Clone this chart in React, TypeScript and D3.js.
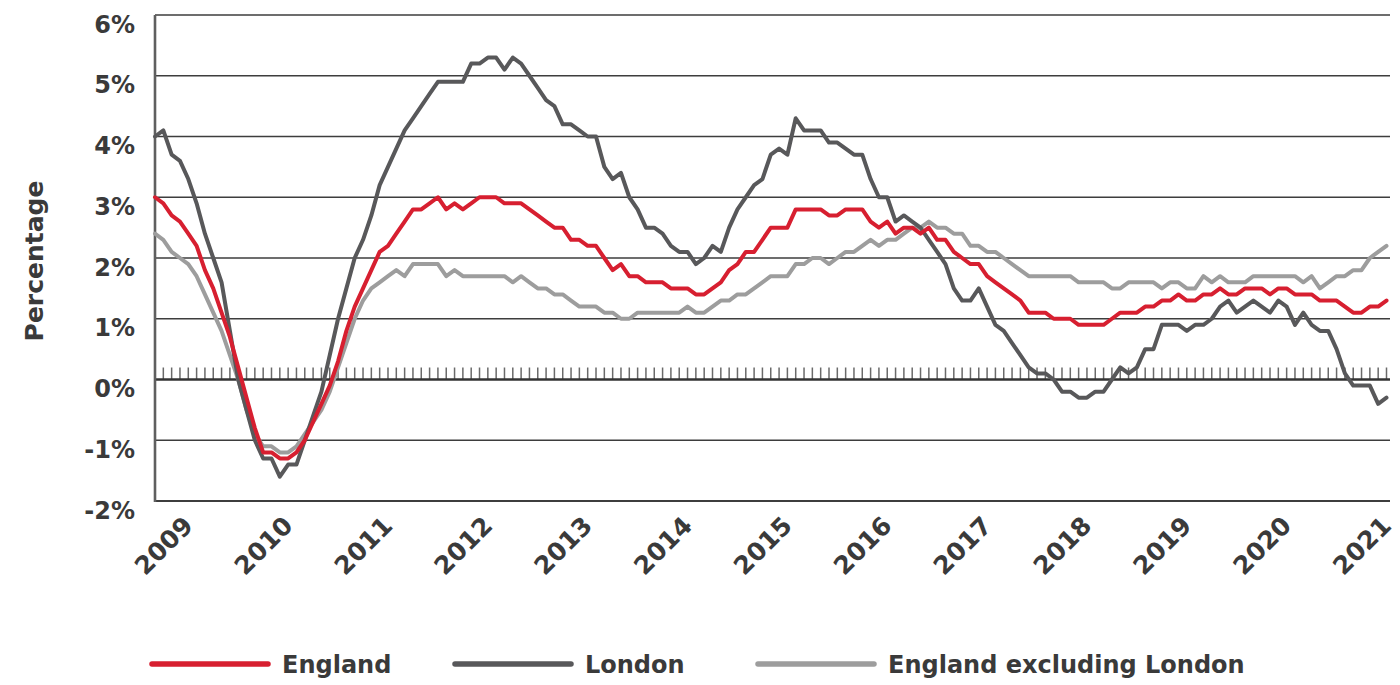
import React from 'react';
import * as d3 from 'd3';

const W = 1400, H = 685;
const PLOT = { left: 155, right: 1386.5, top: 15, bottom: 501, gridEnd: 1390 };
const FONT = '"DejaVu Sans", Verdana, sans-serif';
const TEXT = '#3a3a3a';

// monthly categories, Sep 2008 .. Jan 2021
const MONTHS = d3.timeMonth.range(new Date(2008, 8, 1), new Date(2021, 0, 2));

const Y_TICKS = [6, 5, 4, 3, 2, 1, 0, -1, -2];

const ENGLAND = [
  3.0, 2.9, 2.7, 2.6, 2.4, 2.2, 1.8, 1.5, 1.1, 0.7,
  0.2, -0.3, -0.8, -1.2, -1.2, -1.3, -1.3, -1.2, -1.0, -0.7,
  -0.4, -0.1, 0.3, 0.8, 1.2, 1.5, 1.8, 2.1, 2.2, 2.4,
  2.6, 2.8, 2.8, 2.9, 3.0, 2.8, 2.9, 2.8, 2.9, 3.0,
  3.0, 3.0, 2.9, 2.9, 2.9, 2.8, 2.7, 2.6, 2.5, 2.5,
  2.3, 2.3, 2.2, 2.2, 2.0, 1.8, 1.9, 1.7, 1.7, 1.6,
  1.6, 1.6, 1.5, 1.5, 1.5, 1.4, 1.4, 1.5, 1.6, 1.8,
  1.9, 2.1, 2.1, 2.3, 2.5, 2.5, 2.5, 2.8, 2.8, 2.8,
  2.8, 2.7, 2.7, 2.8, 2.8, 2.8, 2.6, 2.5, 2.6, 2.4,
  2.5, 2.5, 2.4, 2.5, 2.3, 2.3, 2.1, 2.0, 1.9, 1.9,
  1.7, 1.6, 1.5, 1.4, 1.3, 1.1, 1.1, 1.1, 1.0, 1.0,
  1.0, 0.9, 0.9, 0.9, 0.9, 1.0, 1.1, 1.1, 1.1, 1.2,
  1.2, 1.3, 1.3, 1.4, 1.3, 1.3, 1.4, 1.4, 1.5, 1.4,
  1.4, 1.5, 1.5, 1.5, 1.4, 1.5, 1.5, 1.4, 1.4, 1.4,
  1.3, 1.3, 1.3, 1.2, 1.1, 1.1, 1.2, 1.2, 1.3,
];

const LONDON = [
  4.0, 4.1, 3.7, 3.6, 3.3, 2.9, 2.4, 2.0, 1.6, 0.8,
  0.0, -0.5, -1.0, -1.3, -1.3, -1.6, -1.4, -1.4, -1.0, -0.6,
  -0.2, 0.4, 1.0, 1.5, 2.0, 2.3, 2.7, 3.2, 3.5, 3.8,
  4.1, 4.3, 4.5, 4.7, 4.9, 4.9, 4.9, 4.9, 5.2, 5.2,
  5.3, 5.3, 5.1, 5.3, 5.2, 5.0, 4.8, 4.6, 4.5, 4.2,
  4.2, 4.1, 4.0, 4.0, 3.5, 3.3, 3.4, 3.0, 2.8, 2.5,
  2.5, 2.4, 2.2, 2.1, 2.1, 1.9, 2.0, 2.2, 2.1, 2.5,
  2.8, 3.0, 3.2, 3.3, 3.7, 3.8, 3.7, 4.3, 4.1, 4.1,
  4.1, 3.9, 3.9, 3.8, 3.7, 3.7, 3.3, 3.0, 3.0, 2.6,
  2.7, 2.6, 2.5, 2.3, 2.1, 1.9, 1.5, 1.3, 1.3, 1.5,
  1.2, 0.9, 0.8, 0.6, 0.4, 0.2, 0.1, 0.1, 0.0, -0.2,
  -0.2, -0.3, -0.3, -0.2, -0.2, 0.0, 0.2, 0.1, 0.2, 0.5,
  0.5, 0.9, 0.9, 0.9, 0.8, 0.9, 0.9, 1.0, 1.2, 1.3,
  1.1, 1.2, 1.3, 1.2, 1.1, 1.3, 1.2, 0.9, 1.1, 0.9,
  0.8, 0.8, 0.5, 0.1, -0.1, -0.1, -0.1, -0.4, -0.3,
];

const ENGLAND_EX_LONDON = [
  2.4, 2.3, 2.1, 2.0, 1.9, 1.7, 1.4, 1.1, 0.8, 0.4,
  0.0, -0.5, -0.9, -1.1, -1.1, -1.2, -1.2, -1.1, -0.9, -0.7,
  -0.5, -0.2, 0.2, 0.6, 1.0, 1.3, 1.5, 1.6, 1.7, 1.8,
  1.7, 1.9, 1.9, 1.9, 1.9, 1.7, 1.8, 1.7, 1.7, 1.7,
  1.7, 1.7, 1.7, 1.6, 1.7, 1.6, 1.5, 1.5, 1.4, 1.4,
  1.3, 1.2, 1.2, 1.2, 1.1, 1.1, 1.0, 1.0, 1.1, 1.1,
  1.1, 1.1, 1.1, 1.1, 1.2, 1.1, 1.1, 1.2, 1.3, 1.3,
  1.4, 1.4, 1.5, 1.6, 1.7, 1.7, 1.7, 1.9, 1.9, 2.0,
  2.0, 1.9, 2.0, 2.1, 2.1, 2.2, 2.3, 2.2, 2.3, 2.3,
  2.4, 2.5, 2.5, 2.6, 2.5, 2.5, 2.4, 2.4, 2.2, 2.2,
  2.1, 2.1, 2.0, 1.9, 1.8, 1.7, 1.7, 1.7, 1.7, 1.7,
  1.7, 1.6, 1.6, 1.6, 1.6, 1.5, 1.5, 1.6, 1.6, 1.6,
  1.6, 1.5, 1.6, 1.6, 1.5, 1.5, 1.7, 1.6, 1.7, 1.6,
  1.6, 1.6, 1.7, 1.7, 1.7, 1.7, 1.7, 1.7, 1.6, 1.7,
  1.5, 1.6, 1.7, 1.7, 1.8, 1.8, 2.0, 2.1, 2.2,
];

const RED = '#d71f30';
const DARK = '#58585a';
const LIGHT = '#9d9d9d';

// drawing order: light grey at the back, red on top
const SERIES = [
  { name: 'England excluding London', values: ENGLAND_EX_LONDON, color: LIGHT },
  { name: 'London', values: LONDON, color: DARK },
  { name: 'England', values: ENGLAND, color: RED },
];

const LEGEND = [
  { name: 'England', color: RED, x: 152 },
  { name: 'London', color: DARK, x: 455 },
  { name: 'England excluding London', color: LIGHT, x: 758 },
];

export default function App() {
  const x = d3.scaleLinear().domain([0, MONTHS.length - 1]).range([PLOT.left, PLOT.right]);
  const y = d3.scaleLinear().domain([-2, 6]).range([PLOT.bottom, PLOT.top]);
  const line = d3.line<number>().x((_, i) => x(i)).y(d => y(d));

  const y0 = y(0);
  const years = MONTHS.map((m, i) => ({ m, i })).filter(d => d.m.getMonth() === 0);

  return (
    <svg width={W} height={H} style={{ position: 'absolute', left: 0, top: 0, background: '#fff' }}
      fontFamily={FONT} fontWeight="bold">
      {/* horizontal gridlines */}
      {Y_TICKS.filter(t => t !== 0).map(t => (
        <line key={t} x1={PLOT.left} x2={PLOT.gridEnd} y1={y(t)} y2={y(t)}
          stroke="#3d3d3d" strokeWidth={t === -2 ? 2 : 1.3} />
      ))}

      {/* monthly tick marks above the zero line */}
      {MONTHS.map((_, i) => i === 0 ? null : (
        <line key={i} x1={x(i)} x2={x(i)} y1={y0 - 12} y2={y0} stroke="#6a6a6a" strokeWidth={1.5} />
      ))}
      <line x1={PLOT.left} x2={PLOT.gridEnd} y1={y0} y2={y0} stroke="#333" strokeWidth={2.4} />

      {/* left axis */}
      <line x1={PLOT.left} x2={PLOT.left} y1={PLOT.top} y2={PLOT.bottom + 1} stroke="#5f5f5f" strokeWidth={2.6} />

      {/* series */}
      {SERIES.map(s => (
        <path key={s.name} d={line(s.values) || ''} fill="none" stroke={s.color}
          strokeWidth={4} strokeLinejoin="round" strokeLinecap="round" />
      ))}

      {/* y tick labels: top of the label sits on its gridline */}
      {Y_TICKS.map(t => (
        <text key={t} x={135} y={y(t) + 17.5} textAnchor="end" fontSize={24} fill={TEXT}>{`${t}%`}</text>
      ))}

      {/* y axis title */}
      <text transform="translate(43,261) rotate(-90)" textAnchor="middle" fontSize={25} fill={TEXT}>Percentage</text>

      {/* year labels */}
      {years.map(({ m, i }) => (
        <text key={i} transform={`translate(${x(i)},521) rotate(-45)`} textAnchor="end" dy="0.35em"
          fontSize={25} fill={TEXT}>{m.getFullYear()}</text>
      ))}

      {/* legend */}
      {LEGEND.map(l => (
        <g key={l.name}>
          <line x1={l.x} x2={l.x + 116} y1={664} y2={664} stroke={l.color} strokeWidth={5.5} strokeLinecap="round" />
          <text x={l.x + 130} y={664} dy="0.36em" fontSize={24} fill={TEXT}>{l.name}</text>
        </g>
      ))}
    </svg>
  );
}
